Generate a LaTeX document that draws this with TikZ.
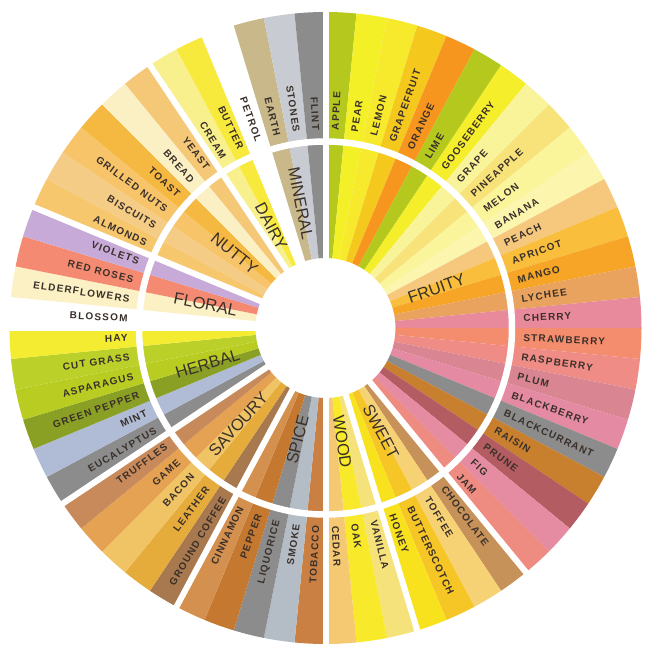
\documentclass[tikz,border=0pt]{standalone}
\usepackage{fontspec}
\setmainfont{Liberation Sans}
\newfontfamily\itemfont[LetterSpace=12]{Liberation Sans}
\definecolor{labelink}{HTML}{3A302A}
\tikzset{
  itemlabel/.style={inner sep=0pt, text=labelink, font=\itemfont\bfseries\fontsize{10}{10}\selectfont},
  catlabel/.style={inner sep=0pt, text=labelink, font=\fontsize{16.5}{16.5}\selectfont},
}

\begin{document}
\begin{tikzpicture}[x=1pt,y=1pt]
\useasboundingbox (-325.5,-322) rectangle (324.5,328);

% one wedge per aroma, clockwise from the top
\foreach \lab/\col [count=\i from 0] in {APPLE/B4C81E, PEAR/F4F028, LEMON/F7EA2C, GRAPEFRUIT/F5C81E,
  ORANGE/F7961E, LIME/B4C81E, GOOSEBERRY/F5EE2A, GRAPE/F9F39A, PINEAPPLE/F8E27A, MELON/FAF49A,
  BANANA/FBF5AE, PEACH/F6C87E, APRICOT/F8BE3C, MANGO/F6A526, LYCHEE/E9A35E, CHERRY/E88A9C,
  STRAWBERRY/F48C6E, RASPBERRY/F08C86, PLUM/D98592, BLACKBERRY/E48AA2, BLACKCURRANT/8C8C8C,
  RAISIN/C8802E, PRUNE/B35D62, FIG/E58CA2, JAM/EE8C82,
  CHOCOLATE/C6925A, TOFFEE/F7D274, BUTTERSCOTCH/F5C626, HONEY/F8E21E,
  VANILLA/F5E27A, OAK/F8EA2A, CEDAR/F5C872,
  TOBACCO/C98042, SMOKE/B4BCC6, LIQUORICE/8C8C8C, PEPPER/C47830, CINNAMON/D4904E,
  GROUND COFFEE/A8784E, LEATHER/E5AC3C, BACON/F0C464, GAME/E4A252, TRUFFLES/C88A5A,
  EUCALYPTUS/8C8C8C, MINT/B0BCD6, GREEN PEPPER/8AA024, ASPARAGUS/B8CC22, CUT GRASS/BCD02A, HAY/F4EC30,
  BLOSSOM/FFFFFF, ELDERFLOWERS/FBF1C4, RED ROSES/F58A72, VIOLETS/C8AAD8,
  ALMONDS/F7C76E, BISCUITS/F5CC86, GRILLED NUTS/F7C46A, TOAST/F5B840, BREAD/FBF0C4, YEAST/F5C877,
  CREAM/F8F08C, BUTTER/F8EA3C,
  PETROL/FFFFFF, EARTH/C8B88A, STONES/C8CCD2, FLINT/8C8C8C}
{
  \pgfmathsetmacro\a{90-\i*5.625}
  \pgfmathsetmacro\b{\a-5.625}
  \pgfmathsetmacro\m{\a-2.8125}
  \definecolor{wedge}{HTML}{\col}
  \fill[wedge] (\a:70) -- (\a:316) arc[start angle=\a, end angle=\b, radius=316]
    -- (\b:70) arc[start angle=\b, end angle=\a, radius=70] -- cycle;
  \ifnum\i<32
    \node[itemlabel, anchor=west, rotate=\m] (item\i) at (\m:198) {\lab};
  \else
    \pgfmathsetmacro\r{\m+180}
    \node[itemlabel, anchor=east, rotate=\r] (item\i) at (\m:198) {\lab};
  \fi
}

% white gaps between the families and between the two rings
\foreach \g in {0,25,29,32,37,42,48,52,58,60}
  \draw[white, line width=6pt] (0,0) -- ({90-\g*5.625}:320);
\draw[white, line width=6.5pt] (0,0) circle[radius=186.5];

% family names in the inner ring
\foreach \lab/\s/\n in {FRUITY/0/25, SWEET/25/4, WOOD/29/3, SPICE/32/5, SAVOURY/37/5,
  HERBAL/42/6, FLORAL/48/4, NUTTY/52/6, DAIRY/58/2, MINERAL/60/4}
{
  \pgfmathsetmacro\m{90-(\s+\n/2)*5.625}
  \ifnum\s<32
    \node[catlabel, anchor=west, rotate=\m] (cat\lab) at (\m:88) {\lab};
  \else
    \pgfmathsetmacro\r{\m+180}
    \node[catlabel, anchor=east, rotate=\r] (cat\lab) at (\m:90) {\lab};
  \fi
}
\end{tikzpicture}
\end{document}
